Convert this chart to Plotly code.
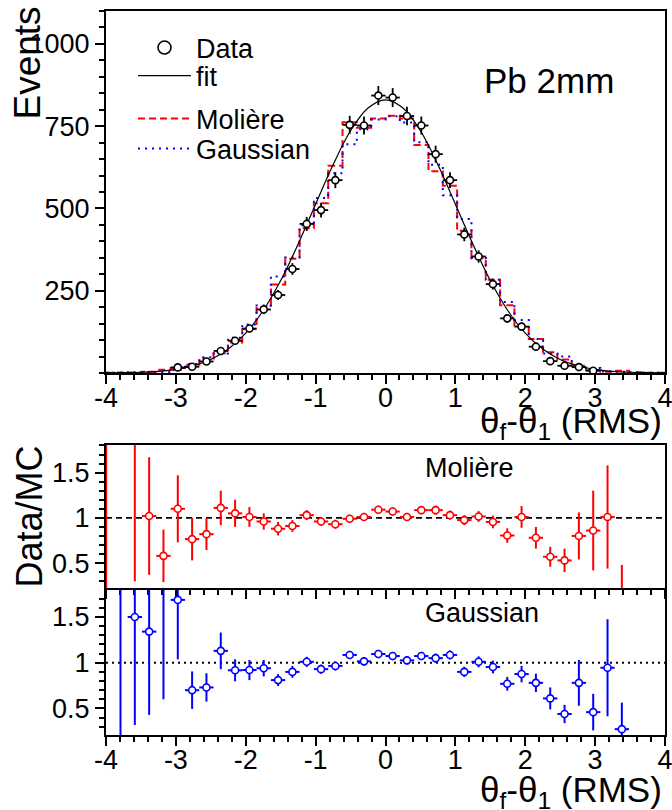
import numpy as np
import plotly.graph_objects as go

# ---------------- data ----------------
bin_centers = [-3.9975, -3.7925, -3.5875, -3.3825, -3.1775, -2.9725, -2.7675, -2.5625,
               -2.3575, -2.1525, -1.9475, -1.7425, -1.5375, -1.3325, -1.1275, -0.9225,
               -0.7175, -0.5125, -0.3075, -0.1025, 0.1025, 0.3075, 0.5125, 0.7175,
               0.9225, 1.1275, 1.3325, 1.5375, 1.7425, 1.9475, 2.1525, 2.3575,
               2.5625, 2.7675, 2.9725, 3.1775, 3.3825, 3.5875, 3.7925, 3.9975]

data_counts = [1, 0, 3, 4, 6, 17, 19, 35, 67, 98, 135, 193, 237, 316, 453, 495,
               586, 754, 752, 843, 837, 781, 752, 665, 586, 421, 354, 270, 166, 141,
               80, 36, 22, 18, 7, 4, 1, 0, 0, 0]

moliere_mc = [1, 1.5, 1.5, 3.9, 10, 15.5, 25, 43, 60, 93, 134, 201, 269, 347, 440, 516,
              630, 762, 745, 773, 782, 773, 693, 613, 569, 432, 349, 283, 206, 140,
              103, 63, 41, 22, 8, 4, 6.7, 2, 1, 0.5]

gauss_mc = [0.5, 1, 2, 3, 2.7, 10, 27, 48, 59, 107, 147, 205, 293, 351, 449, 532,
            607, 695, 741, 770, 780, 761, 701, 633, 540, 468, 350, 283, 216, 161,
            103, 59, 50, 23, 15, 4.2, 3.6, 1.5, 1, 0.5]

fit_x = [-4.0, -3.75, -3.5, -3.25, -3.0, -2.75, -2.5, -2.25, -2.0, -1.75, -1.5, -1.25,
         -1.0, -0.75, -0.5, -0.25, 0.0, 0.25, 0.5, 0.75, 1.0, 1.25, 1.5, 1.75, 2.0,
         2.25, 2.5, 2.75, 3.0, 3.25, 3.5, 3.75, 4.0]
fit_y = [0.4, 1.0, 2.3, 5.2, 11, 22, 41, 73, 121, 190, 281, 392, 513, 633, 736, 805,
         830, 805, 736, 633, 513, 392, 281, 190, 121, 73, 41, 22, 11, 5.2, 2.3, 1.0, 0.4]

ratio_moliere = [3.0, None, 2.0, 1.02, 0.58, 1.10, 0.765, 0.82, 1.11, 1.05, 1.01, 0.96,
                 0.88, 0.91, 1.03, 0.96, 0.93, 0.99, 1.01, 1.09, 1.07, 1.01, 1.085, 1.085,
                 1.03, 0.975, 1.015, 0.955, 0.805, 1.01, 0.78, 0.57, 0.53, 0.80, 0.86,
                 1.01, 0.15, None, None, None]
ratio_moliere_err = [3.0, 0, 1.7, 0.65, 0.29, 0.37, 0.235, 0.175, 0.19, 0.15, 0.11, 0.09,
                     0.075, 0.065, 0.055, 0.05, 0.05, 0.045, 0.045, 0.045, 0.045, 0.045,
                     0.045, 0.05, 0.05, 0.055, 0.06, 0.07, 0.08, 0.12, 0.12, 0.11, 0.13,
                     0.26, 0.44, 0.57, 0.33, 0, 0, 0]

ratio_gauss = [None, 2.5, 1.50, 1.34, 2.4, 1.687, 0.70, 0.73, 1.13, 0.917, 0.92, 0.94,
               0.81, 0.90, 1.01, 0.93, 0.965, 1.085, 1.015, 1.095, 1.073, 1.026, 1.073,
               1.05, 1.085, 0.90, 1.01, 0.953, 0.77, 0.876, 0.78, 0.61, 0.44, 0.78, 0.46,
               0.945, 0.274, None, None, None]
ratio_gauss_err = [0, 2.5, 1.18, 0.91, 1.8, 0.65, 0.205, 0.155, 0.2, 0.12, 0.11, 0.09,
                   0.065, 0.065, 0.055, 0.05, 0.05, 0.045, 0.045, 0.045, 0.045, 0.045,
                   0.045, 0.05, 0.05, 0.055, 0.06, 0.07, 0.075, 0.09, 0.1, 0.12, 0.10,
                   0.25, 0.2, 0.53, 0.29, 0, 0, 0]

x_tickvals = [-4, -3, -2, -1, 0, 1, 2, 3, 4]
x_ticktext = ["-4", "-3", "-2", "-1", "0", "1", "2", "3", "4"]
top_y_tickvals = [250, 500, 750, 1000]
top_y_ticktext = ["250", "500", "750", "1000"]
ratio_y_tickvals = [0.5, 1, 1.5]
ratio_y_ticktext = ["0.5", "1", "1.5"]

# ---------------- layout helpers ----------------
W, H = 672, 810
FONT = "Liberation Sans, Arial, Helvetica, sans-serif"


def px(x):
    return x / W


def py(y):
    return 1 - y / H


half_bin = (bin_centers[1] - bin_centers[0]) / 2
top_sel = [i for i, c in enumerate(bin_centers) if abs(c) < 3.1]
top_x = [bin_centers[i] for i in top_sel]
top_y = [data_counts[i] for i in top_sel]
top_err = [float(np.sqrt(data_counts[i])) for i in top_sel]

fig = go.Figure()

# ---- top panel ----
fig.add_trace(go.Scatter(x=bin_centers, y=moliere_mc, mode="lines", name="Molière",
                         line=dict(color="red", width=2, dash="7px,4px", shape="hvh"),
                         xaxis="x", yaxis="y", legend="legend3"))
fig.add_trace(go.Scatter(x=bin_centers, y=gauss_mc, mode="lines", name="Gaussian",
                         line=dict(color="blue", width=2, dash="2px,5px", shape="hvh"),
                         xaxis="x", yaxis="y", legend="legend4"))
fig.add_trace(go.Scatter(x=fit_x, y=fit_y, mode="lines", name="fit",
                         line=dict(color="black", width=1.2, shape="spline"),
                         xaxis="x", yaxis="y", legend="legend2"))
fig.add_trace(go.Scatter(x=top_x, y=top_y, mode="markers", showlegend=False,
                         marker=dict(symbol="circle", size=7, color="white",
                                     line=dict(color="black", width=1.6)),
                         error_y=dict(type="data", array=top_err, color="black",
                                      thickness=1.8, width=0),
                         error_x=dict(type="constant", value=half_bin, color="black",
                                      thickness=1.8, width=0),
                         xaxis="x", yaxis="y"))
fig.add_trace(go.Scatter(x=[None], y=[None], mode="markers", name="Data",
                         marker=dict(symbol="circle-open", size=13, color="black",
                                     line=dict(width=1.6)),
                         xaxis="x", yaxis="y", legend="legend"))

# ---- middle panel (Molière ratio) ----
fig.add_trace(go.Scatter(x=bin_centers, y=ratio_moliere, mode="markers", showlegend=False,
                         marker=dict(symbol="circle", size=7, color="white",
                                     line=dict(color="red", width=1.6)),
                         error_y=dict(type="data", array=ratio_moliere_err, color="red",
                                      thickness=2, width=0),
                         error_x=dict(type="constant", value=half_bin, color="red",
                                      thickness=2, width=0),
                         xaxis="x2", yaxis="y2"))

# ---- bottom panel (Gaussian ratio) ----
fig.add_trace(go.Scatter(x=bin_centers, y=ratio_gauss, mode="markers", showlegend=False,
                         marker=dict(symbol="circle", size=7, color="white",
                                     line=dict(color="blue", width=1.6)),
                         error_y=dict(type="data", array=ratio_gauss_err, color="blue",
                                      thickness=2, width=0),
                         error_x=dict(type="constant", value=half_bin, color="blue",
                                      thickness=2, width=0),
                         xaxis="x3", yaxis="y3"))


def xaxis_style(domain_anchor, show_labels):
    return dict(range=[-4, 4], domain=[px(106), px(665)], anchor=domain_anchor,
                tickmode="array", tickvals=x_tickvals, ticktext=x_ticktext,
                showticklabels=show_labels, automargin=False,
                ticklabeloverflow="allow", ticklabelstandoff=-9,
                ticks="outside", ticklen=9, tickwidth=1.5, tickcolor="black",
                minor=dict(tickmode="linear", tick0=0, dtick=0.2, ticks="outside",
                           ticklen=5, tickwidth=1.5, tickcolor="black"),
                showline=True, linewidth=2, linecolor="black", mirror=True,
                showgrid=False, zeroline=False,
                tickfont=dict(family=FONT, size=27, color="black"))


def yaxis_style(rng, dom, anchor, tv, tt, minor_dtick, layer="above traces"):
    return dict(range=rng, domain=dom, anchor=anchor, automargin=False,
                tickmode="array", tickvals=tv, ticktext=tt,
                ticklabeloverflow="allow",
                ticks="outside", ticklen=9, tickwidth=1.5, tickcolor="black",
                minor=dict(tickmode="linear", tick0=0, dtick=minor_dtick, ticks="outside",
                           ticklen=5, tickwidth=1.5, tickcolor="black"),
                showline=True, linewidth=2, linecolor="black", mirror=True,
                showgrid=False, zeroline=False, layer=layer,
                tickfont=dict(family=FONT, size=27, color="black"))


legend_common = dict(xanchor="left", yanchor="middle", bgcolor="rgba(0,0,0,0)",
                     borderwidth=0, itemwidth=53,
                     font=dict(family=FONT, size=27, color="black"))

fig.update_layout(
    width=W, height=H, autosize=False,
    margin=dict(l=0, r=0, t=0, b=0, pad=0, autoexpand=False),
    paper_bgcolor="white", plot_bgcolor="white",
    font=dict(family=FONT, color="black"),
    xaxis=xaxis_style("y", True),
    yaxis=yaxis_style([0, 1100], [py(373), py(11)], "x", top_y_tickvals, top_y_ticktext, 50),
    xaxis2=xaxis_style("y2", False),
    yaxis2=yaxis_style([0.225, 1.805], [py(588), py(445)], "x2", ratio_y_tickvals,
                       ratio_y_ticktext, 0.1, layer="below traces"),
    xaxis3=xaxis_style("y3", True),
    yaxis3=yaxis_style([0.21, 1.795], [py(735), py(590)], "x3", ratio_y_tickvals,
                       ratio_y_ticktext, 0.1),
    legend=dict(x=px(133), y=py(48), **legend_common),
    legend2=dict(x=px(133), y=py(76), **legend_common),
    legend3=dict(x=px(133), y=py(119), **legend_common),
    legend4=dict(x=px(133), y=py(149), **legend_common),
    shapes=[
        dict(type="line", xref="x2 domain", yref="y2", x0=0, x1=1, y0=1, y1=1,
             line=dict(color="black", width=1.8, dash="6px,4px"), layer="below"),
        dict(type="line", xref="x3 domain", yref="y3", x0=0, x1=1, y0=1, y1=1,
             line=dict(color="black", width=1.8, dash="2px,4px"), layer="below"),
    ],
    annotations=[
        dict(text="Events", x=px(27.5), y=py(63), xref="paper", yref="paper",
             textangle=-90, showarrow=False, xanchor="center", yanchor="middle",
             font=dict(family=FONT, size=37, color="black")),
        dict(text="Data/MC", x=px(28.5), y=py(517), xref="paper", yref="paper",
             textangle=-90, showarrow=False, xanchor="center", yanchor="middle",
             font=dict(family=FONT, size=36, color="black")),
        dict(text="Pb 2mm", x=px(482), y=py(81), xref="paper", yref="paper",
             showarrow=False, xanchor="left", yanchor="middle",
             font=dict(family=FONT, size=35, color="black")),
        dict(text="Molière", x=px(469), y=py(468), xref="paper", yref="paper",
             showarrow=False, xanchor="center", yanchor="middle",
             font=dict(family=FONT, size=27, color="black")),
        dict(text="Gaussian", x=px(482), y=py(613), xref="paper", yref="paper",
             showarrow=False, xanchor="center", yanchor="middle",
             font=dict(family=FONT, size=27, color="black")),
        dict(text="θ<sub>f</sub>-θ<sub>1</sub> (RMS)", x=px(664), y=py(423),
             xref="paper", yref="paper", showarrow=False, xanchor="right",
             yanchor="middle", font=dict(family=FONT, size=35, color="black")),
        dict(text="θ<sub>f</sub>-θ<sub>1</sub> (RMS)", x=px(664), y=py(792),
             xref="paper", yref="paper", showarrow=False, xanchor="right",
             yanchor="middle", font=dict(family=FONT, size=35, color="black")),
    ],
)

fig.write_html("out.html", config={"responsive": False, "displayModeBar": False},
               post_script="document.body.style.margin='0';"
                           "document.body.style.overflow='hidden';")
